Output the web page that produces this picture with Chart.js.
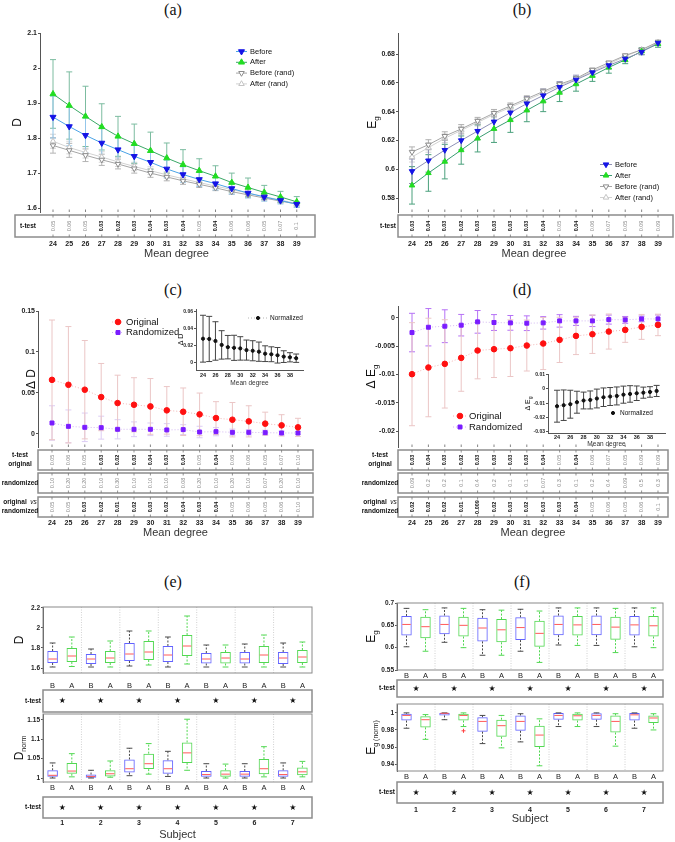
<!DOCTYPE html>
<html>
<head>
<meta charset="utf-8">
<title>Mean degree and subject comparison</title>
<script src="https://cdn.jsdelivr.net/npm/chart.js@4.4.1/dist/chart.umd.min.js"></script>
<style>
  body { margin: 0; background: #fff; width: 675px; height: 842px; position: relative; overflow: hidden; }
  canvas { position: absolute; }
  .ptitle { position: absolute; width: 40px; text-align: center; font-family: "Liberation Serif", "DejaVu Serif", serif; font-size: 16px; line-height: 16px; color: #111; }
</style>
</head>
<body>
<div class="ptitle" style="left:153px;top:2px">(a)</div>
<div class="ptitle" style="left:502px;top:2px">(b)</div>
<div class="ptitle" style="left:153px;top:282px">(c)</div>
<div class="ptitle" style="left:502px;top:282px">(d)</div>
<div class="ptitle" style="left:153px;top:574px">(e)</div>
<div class="ptitle" style="left:502px;top:574px">(f)</div>

<canvas id="chartA" width="337" height="245" style="left:0;top:20px"></canvas>
<canvas id="chartB" width="338" height="245" style="left:337px;top:20px"></canvas>
<canvas id="chartC" width="337" height="242" style="left:0;top:300px"></canvas>
<canvas id="chartD" width="338" height="242" style="left:337px;top:300px"></canvas>
<canvas id="insetC" width="135" height="87" style="left:175px;top:303px"></canvas>
<canvas id="insetD" width="155" height="80" style="left:520px;top:368px"></canvas>
<canvas id="chartE1" width="337" height="117" style="left:0;top:598px"></canvas>
<canvas id="chartE2" width="337" height="134" style="left:0;top:708px"></canvas>
<canvas id="chartF1" width="338" height="104" style="left:337px;top:596px"></canvas>
<canvas id="chartF2" width="338" height="143" style="left:337px;top:699px"></canvas>

<script>
// ---- shared categories / tick labels
var meanDegree = [24, 25, 26, 27, 28, 29, 30, 31, 32, 33, 34, 35, 36, 37, 38, 39];
var insetDegreeTicks = [24, 26, 28, 30, 32, 34, 36, 38];
var subjects = [1, 2, 3, 4, 5, 6, 7];
var boxLabels = ['B', 'A', 'B', 'A', 'B', 'A', 'B', 'A', 'B', 'A', 'B', 'A', 'B', 'A'];
var subjectSig = [1, 1, 1, 1, 1, 1, 1]; // star = significant t-test

// ---- (a) D vs mean degree
var dTicks = [1.6, 1.7, 1.8, 1.9, 2, 2.1];
var dBefore = [1.860, 1.833, 1.808, 1.786, 1.767, 1.748, 1.731, 1.712, 1.696, 1.682, 1.670, 1.656, 1.643, 1.632, 1.622, 1.611];
var dBeforeErr = [0.060, 0.055, 0.050, 0.042, 0.036, 0.031, 0.028, 0.025, 0.022, 0.020, 0.018, 0.016, 0.014, 0.012, 0.010, 0.008];
var dAfter = [1.926, 1.893, 1.862, 1.832, 1.805, 1.784, 1.764, 1.743, 1.724, 1.707, 1.691, 1.673, 1.659, 1.645, 1.632, 1.618];
var dAfterErr = [0.098, 0.096, 0.086, 0.066, 0.057, 0.056, 0.053, 0.043, 0.043, 0.034, 0.030, 0.027, 0.027, 0.020, 0.016, 0.015];
var dBeforeRand = [1.779, 1.765, 1.751, 1.738, 1.726, 1.713, 1.700, 1.689, 1.678, 1.668, 1.658, 1.647, 1.638, 1.629, 1.620, 1.612];
var dBeforeRandErr = [0.022, 0.020, 0.018, 0.016, 0.014, 0.013, 0.012, 0.011, 0.010, 0.009, 0.008, 0.007, 0.006, 0.006, 0.005, 0.005];
var dAfterRand = [1.791, 1.773, 1.759, 1.746, 1.732, 1.719, 1.707, 1.695, 1.684, 1.673, 1.663, 1.653, 1.643, 1.633, 1.623, 1.613];
var dAfterRandErr = [0.020, 0.018, 0.016, 0.015, 0.013, 0.012, 0.011, 0.010, 0.009, 0.008, 0.007, 0.007, 0.006, 0.005, 0.005, 0.004];
var dTtest = ['0.05', '0.06', '0.05', '0.03', '0.02', '0.03', '0.04', '0.03', '0.04', '0.05', '0.04', '0.06', '0.06', '0.05', '0.07', '0.1'];

// ---- (b) Eg vs mean degree
var egTicks = [0.58, 0.6, 0.62, 0.64, 0.66, 0.68];
var egBefore = [0.5986, 0.6060, 0.6133, 0.6200, 0.6265, 0.6330, 0.6393, 0.6456, 0.6512, 0.6570, 0.6621, 0.6672, 0.6721, 0.6767, 0.6814, 0.6877];
var egBeforeErr = [0.0085, 0.0080, 0.0075, 0.0065, 0.0060, 0.0058, 0.0052, 0.0048, 0.0044, 0.0038, 0.0032, 0.0027, 0.0025, 0.0020, 0.0018, 0.0016];
var egAfter = [0.5888, 0.5974, 0.6053, 0.6133, 0.6214, 0.6281, 0.6342, 0.6409, 0.6472, 0.6532, 0.6591, 0.6649, 0.6707, 0.6760, 0.6819, 0.6870];
var egAfterErr = [0.0130, 0.0127, 0.0120, 0.0098, 0.0094, 0.0095, 0.0086, 0.0079, 0.0072, 0.0062, 0.0049, 0.0039, 0.0040, 0.0027, 0.0024, 0.0023];
var egBeforeRand = [0.6120, 0.6170, 0.6230, 0.6280, 0.6335, 0.6390, 0.6440, 0.6490, 0.6540, 0.6590, 0.6630, 0.6690, 0.6740, 0.6790, 0.6830, 0.6885];
var egBeforeRandErr = [0.0035, 0.0035, 0.0030, 0.0030, 0.0025, 0.0025, 0.0020, 0.0020, 0.0018, 0.0016, 0.0014, 0.0012, 0.0010, 0.0010, 0.0008, 0.0008];
var egAfterRand = [0.6085, 0.6150, 0.6215, 0.6270, 0.6325, 0.6380, 0.6430, 0.6480, 0.6530, 0.6580, 0.6625, 0.6680, 0.6730, 0.6785, 0.6830, 0.6880];
var egAfterRandErr = [0.0035, 0.0032, 0.0030, 0.0028, 0.0025, 0.0022, 0.0020, 0.0018, 0.0016, 0.0015, 0.0013, 0.0012, 0.0010, 0.0009, 0.0008, 0.0008];
var egTtest = ['0.03', '0.04', '0.03', '0.02', '0.03', '0.03', '0.03', '0.03', '0.04', '0.05', '0.04', '0.06', '0.07', '0.05', '0.09', '0.09'];

// ---- (c) delta D
var dDeltaTicks = [0, 0.05, 0.1, 0.15];
var dDeltaOrig = [0.066, 0.060, 0.054, 0.045, 0.0377, 0.0356, 0.0336, 0.0288, 0.0271, 0.0239, 0.0194, 0.0174, 0.0154, 0.0126, 0.0105, 0.0081];
var dDeltaOrigErr = [0.073, 0.071, 0.060, 0.041, 0.034, 0.033, 0.034, 0.029, 0.029, 0.026, 0.020, 0.021, 0.019, 0.014, 0.013, 0.011];
var dDeltaRand = [0.0134, 0.0093, 0.0081, 0.0077, 0.0057, 0.0057, 0.0057, 0.0049, 0.0053, 0.0024, 0.0028, 0.0020, 0.0020, 0.0016, 0.0012, 0.0012];
var dDeltaRandErr = [0.021, 0.020, 0.0174, 0.014, 0.0117, 0.009, 0.0077, 0.0077, 0.006, 0.007, 0.005, 0.004, 0.0033, 0.003, 0.0024, 0.002];
var dNormTicks = [0, 0.02, 0.04, 0.06];
var dDeltaNorm = [0.028, 0.0277, 0.0253, 0.0206, 0.0179, 0.0171, 0.0164, 0.0144, 0.0136, 0.0125, 0.0101, 0.0094, 0.0082, 0.0066, 0.0058, 0.0047];
var dDeltaNormErr = [0.028, 0.027, 0.023, 0.017, 0.014, 0.015, 0.014, 0.012, 0.012, 0.0115, 0.0094, 0.0089, 0.0093, 0.007, 0.0055, 0.005];
var dTtestOrig = ['0.05', '0.06', '0.05', '0.03', '0.02', '0.03', '0.04', '0.03', '0.04', '0.05', '0.04', '0.06', '0.06', '0.05', '0.07', '0.10'];
var dTtestRand = ['0.10', '0.20', '0.20', '0.10', '0.30', '0.10', '0.10', '0.10', '0.08', '0.20', '0.10', '0.20', '0.10', '0.07', '0.20', '0.10'];
var dTtestOrigVsRand = ['0.05', '0.05', '0.03', '0.02', '0.01', '0.02', '0.03', '0.02', '0.04', '0.03', '0.04', '0.05', '0.06', '0.05', '0.06', '0.10'];

// ---- (d) delta Eg
var egDeltaTicks = [-0.02, -0.015, -0.01, -0.005, 0];
var egDeltaOrig = [-0.00994, -0.00876, -0.00812, -0.00706, -0.00576, -0.00553, -0.00535, -0.00488, -0.00453, -0.00388, -0.00318, -0.00288, -0.00241, -0.00212, -0.00159, -0.00124];
var egDeltaOrigErr = [0.0091, 0.0087, 0.0078, 0.0059, 0.0050, 0.0050, 0.0050, 0.0045, 0.0046, 0.0040, 0.0033, 0.0034, 0.0031, 0.0022, 0.0022, 0.0019];
var egDeltaRand = [-0.00259, -0.00165, -0.00147, -0.00129, -0.0007, -0.00082, -0.00088, -0.00094, -0.00088, -0.00053, -0.00053, -0.00053, -0.0003, -0.00035, -0.00018, -0.00018];
var egDeltaRandErr = [0.0034, 0.0033, 0.0029, 0.0019, 0.0020, 0.0014, 0.0013, 0.0013, 0.0011, 0.0011, 0.0008, 0.0010, 0.0008, 0.0006, 0.0005, 0.0007];
var egNormTicks = [-0.03, -0.02, -0.01, 0, 0.01];
var egDeltaNorm = [-0.0121, -0.0114, -0.0107, -0.0093, -0.0081, -0.0077, -0.0067, -0.0058, -0.0053, -0.0049, -0.0040, -0.0035, -0.0030, -0.0026, -0.0021, -0.0014];
var egDeltaNormErr = [0.0112, 0.0107, 0.0098, 0.0077, 0.0059, 0.0063, 0.0066, 0.0065, 0.0063, 0.0063, 0.0060, 0.0058, 0.0051, 0.0039, 0.0037, 0.0039];
var egTtestOrig = ['0.03', '0.04', '0.03', '0.02', '0.03', '0.03', '0.03', '0.03', '0.04', '0.05', '0.04', '0.06', '0.07', '0.05', '0.09', '0.09'];
var egTtestRand = ['0.09', '0.2', '0.2', '0.1', '0.4', '0.2', '0.1', '0.1', '0.07', '0.3', '0.1', '0.2', '0.4', '0.09', '0.5', '0.3'];
var egTtestOrigVsRand = ['0.02', '0.02', '0.02', '0.01', '0.009', '0.02', '0.03', '0.02', '0.03', '0.03', '0.04', '0.05', '0.06', '0.05', '0.06', '0.1'];

// ---- (e) boxes per subject, B/A order
var dBoxTicks = [1.6, 1.8, 2, 2.2];
var dBoxLo = [1.61, 1.615, 1.61, 1.61, 1.62, 1.63, 1.61, 1.64, 1.61, 1.61, 1.61, 1.61, 1.61, 1.61];
var dBoxQ1 = [1.65, 1.66, 1.64, 1.65, 1.67, 1.68, 1.66, 1.72, 1.645, 1.645, 1.645, 1.65, 1.64, 1.65];
var dBoxMed = [1.69, 1.72, 1.69, 1.70, 1.74, 1.76, 1.73, 1.82, 1.69, 1.70, 1.69, 1.73, 1.70, 1.71];
var dBoxQ3 = [1.77, 1.80, 1.74, 1.77, 1.85, 1.87, 1.82, 1.93, 1.75, 1.76, 1.76, 1.82, 1.76, 1.78];
var dBoxHi = [1.85, 1.91, 1.79, 1.87, 1.97, 1.97, 1.91, 2.12, 1.83, 1.83, 1.84, 1.93, 1.85, 1.86];
var dNormBoxTicks = [1, 1.05, 1.1, 1.15];
var dNormLo = [1.0, 1.003, 1.0, 1.002, 1.006, 1.01, 1.004, 1.02, 1.0, 1.0, 1.0, 1.003, 1.0, 1.003];
var dNormQ1 = [1.003, 1.011, 1.001, 1.004, 1.014, 1.023, 1.011, 1.039, 1.003, 1.003, 1.003, 1.01, 1.003, 1.007];
var dNormMed = [1.007, 1.018, 1.004, 1.011, 1.024, 1.037, 1.024, 1.065, 1.009, 1.01, 1.01, 1.024, 1.009, 1.016];
var dNormQ3 = [1.02, 1.039, 1.009, 1.02, 1.048, 1.063, 1.046, 1.092, 1.018, 1.02, 1.018, 1.049, 1.02, 1.027];
var dNormHi = [1.039, 1.063, 1.02, 1.044, 1.077, 1.089, 1.069, 1.152, 1.037, 1.036, 1.037, 1.081, 1.039, 1.043];

// ---- (f) boxes per subject, B/A order
var egBoxTicks = [0.55, 0.6, 0.65, 0.7];
var egBoxLo = [0.602, 0.592, 0.612, 0.600, 0.583, 0.583, 0.592, 0.567, 0.606, 0.605, 0.605, 0.589, 0.602, 0.600];
var egBoxQ1 = [0.627, 0.621, 0.630, 0.625, 0.614, 0.612, 0.617, 0.602, 0.628, 0.627, 0.628, 0.618, 0.627, 0.625];
var egBoxMed = [0.652, 0.647, 0.652, 0.650, 0.644, 0.640, 0.645, 0.632, 0.652, 0.651, 0.652, 0.646, 0.651, 0.649];
var egBoxQ3 = [0.671, 0.669, 0.672, 0.669, 0.667, 0.664, 0.668, 0.660, 0.672, 0.671, 0.672, 0.669, 0.671, 0.671];
var egBoxHi = [0.688, 0.685, 0.689, 0.688, 0.685, 0.684, 0.686, 0.682, 0.689, 0.689, 0.689, 0.688, 0.689, 0.689];
var egNormBoxTicks = [0.94, 0.96, 0.98, 1];
var egNormLo = [0.982, 0.969, 0.992, 0.984, 0.964, 0.959, 0.966, 0.938, 0.984, 0.984, 0.984, 0.961, 0.982, 0.980];
var egNormQ1 = [0.991, 0.983, 0.997, 0.991, 0.978, 0.972, 0.979, 0.960, 0.992, 0.991, 0.992, 0.977, 0.991, 0.988];
var egNormMed = [0.997, 0.992, 0.9995, 0.997, 0.990, 0.985, 0.990, 0.974, 0.997, 0.9966, 0.997, 0.990, 0.9977, 0.994];
var egNormQ3 = [0.999, 0.996, 1.0, 0.999, 0.995, 0.992, 0.997, 0.985, 1.0, 0.999, 0.9996, 0.997, 1.0, 0.997];
var egNormHi = [1.0, 0.998, 1.0, 1.0, 0.997, 0.997, 0.999, 0.993, 1.0, 1.0, 1.0, 0.999, 1.0, 0.999];
var egNormOutliers = [null, null, null, 0.979, null, null, null, null, null, null, null, null, null, null];

// ---- setup
var plotFont = '"Liberation Sans", Arial, Helvetica, sans-serif';
Chart.defaults.font.family = plotFont;
Chart.defaults.color = '#222';
Chart.defaults.animation = false;
Chart.defaults.responsive = false;
Chart.defaults.devicePixelRatio = 1;
Chart.defaults.plugins.legend.display = false;
Chart.defaults.plugins.tooltip.enabled = false;

var boxBlue = '#6262ff';
var boxGreen = '#52d852';

function fmtNum(v) { return String(parseFloat(Number(v).toFixed(6))); }

function setTicks(values) {
    return function (scale) {
        scale.ticks = values.map(function (v) { return { value: v }; });
    };
}
//axis sizes are pinned so the plot areas land where the figure has them
function fixWidth(w) {
    return function (scale) { scale.width = w; scale.paddingTop = 0; scale.paddingBottom = 0; };
}
function fixHeight(h) {
    return function (scale) { scale.height = h; scale.paddingLeft = 0; scale.paddingRight = 0; };
}

function pts(values) {
    return values.map(function (v, i) { return { x: meanDegree[i], y: v }; });
}

function series(label, values, errs, st) {
    return {
        label: label, data: pts(values), errors: errs, errorColor: st.err,
        borderColor: st.line, borderWidth: st.lw || 1, borderDash: st.dash || [],
        pointStyle: st.shape, pointRotation: st.rot || 0, pointRadius: st.r,
        pointBackgroundColor: st.fill, pointBorderColor: st.edge || st.fill, pointBorderWidth: 1,
        tension: 0, fill: false
    };
}

function degreeAxis(o) {
    return {
        type: 'linear', min: o.min, max: o.max, offset: false,
        afterBuildTicks: setTicks(o.ticks || meanDegree),
        afterFit: fixHeight(o.height),
        grid: { display: false, drawTicks: false },
        border: { display: !!o.border, color: '#555' },
        //tiny inset labels are painted by insetTicks (the last one got lost at 5px)
        ticks: { display: !o.manualLabels, padding: o.pad, autoSkip: false, autoSkipPadding: 0, maxRotation: 0, color: '#222', font: { size: o.size || 7, weight: 'bold' } },
        title: { display: true, text: 'Mean degree', color: '#333', font: { size: o.titleSize || 11 }, padding: { top: 0, bottom: o.titlePad } }
    };
}

function valueAxis(o) {
    return {
        type: 'linear', min: o.min, max: o.max, beginAtZero: false,
        afterBuildTicks: setTicks(o.ticks),
        afterFit: fixWidth(o.width),
        grid: { drawOnChartArea: false, tickLength: 2, color: '#555' },
        border: { display: true, color: '#555' },
        ticks: { padding: 1, color: '#222', font: { size: o.size || 7, weight: 'bold' }, callback: function (v) { return fmtNum(v); } }
    };
}

// ---- plugins
var errorBarsPlugin = {
    id: 'errorBars',
    beforeDatasetsDraw: function (chart) {
        var ctx = chart.ctx, ys = chart.scales.y;
        for (var di = chart.data.datasets.length - 1; di >= 0; di--) {
            var ds = chart.data.datasets[di];
            if (!ds.errors) continue;
            var meta = chart.getDatasetMeta(di);
            ctx.save();
            ctx.strokeStyle = ds.errorColor;
            ctx.lineWidth = 1;
            meta.data.forEach(function (pt, i) {
                var v = meta.controller.getParsed(i).y, e = ds.errors[i];
                if (v == null || e == null) return;
                var yt = ys.getPixelForValue(v + e), yb = ys.getPixelForValue(v - e), cap = ds.errorCap || 3;
                ctx.beginPath();
                ctx.moveTo(pt.x, yt); ctx.lineTo(pt.x, yb);
                ctx.moveTo(pt.x - cap, yt); ctx.lineTo(pt.x + cap, yt);
                ctx.moveTo(pt.x - cap, yb); ctx.lineTo(pt.x + cap, yb);
                ctx.stroke();
            });
            ctx.restore();
        }
    }
};

var insetTicksPlugin = {
    id: 'insetTicks',
    afterDraw: function (chart, args, opts) {
        if (!opts.size) return;
        var ctx = chart.ctx, xs = chart.scales.x;
        ctx.save();
        ctx.fillStyle = '#222';
        ctx.font = 'bold ' + opts.size + 'px ' + plotFont;
        ctx.textAlign = 'center';
        ctx.textBaseline = 'top';
        xs.ticks.forEach(function (t) {
            ctx.fillText(fmtNum(t.value), xs.getPixelForValue(t.value), xs.top + opts.pad);
        });
        ctx.restore();
    }
};

var yLabelPlugin = {
    id: 'yLabel',
    afterDraw: function (chart, args, opts) {
        if (!opts.parts) return;
        var ctx = chart.ctx, area = chart.chartArea;
        ctx.save();
        ctx.translate(opts.x, (area.top + area.bottom) / 2);
        ctx.rotate(-Math.PI / 2);
        ctx.fillStyle = '#111';
        ctx.textBaseline = 'middle';
        ctx.textAlign = 'left';
        var total = 0;
        opts.parts.forEach(function (p) { ctx.font = p.size + 'px ' + plotFont; total += ctx.measureText(p.t).width; });
        var x = -total / 2;
        opts.parts.forEach(function (p) {
            ctx.font = p.size + 'px ' + plotFont;
            ctx.fillText(p.t, x, p.dy || 0);
            x += ctx.measureText(p.t).width;
        });
        ctx.restore();
    }
};

var miniLegendPlugin = {
    id: 'miniLegend',
    afterDraw: function (chart, args, opts) {
        if (!opts.items) return;
        var ctx = chart.ctx;
        opts.items.forEach(function (dsIndex, k) {
            var ds = chart.data.datasets[dsIndex];
            var y = opts.y + k * opts.rowH, x0 = opts.x, x1 = opts.x + opts.lineLen;
            ctx.save();
            ctx.strokeStyle = ds.borderColor;
            ctx.lineWidth = ds.borderWidth;
            ctx.setLineDash(ds.borderDash || []);
            ctx.beginPath(); ctx.moveTo(x0, y); ctx.lineTo(x1, y); ctx.stroke();
            ctx.setLineDash([]);
            ctx.fillStyle = ds.pointBackgroundColor;
            ctx.strokeStyle = ds.pointBorderColor;
            ctx.lineWidth = ds.pointBorderWidth;
            Chart.helpers.drawPoint(ctx, { pointStyle: ds.pointStyle, rotation: ds.pointRotation, radius: ds.pointRadius, borderWidth: ds.pointBorderWidth }, (x0 + x1) / 2, y);
            ctx.fillStyle = '#111';
            ctx.font = opts.size + 'px ' + plotFont;
            ctx.textBaseline = 'middle';
            ctx.textAlign = 'left';
            ctx.fillText(ds.label, x1 + (opts.gap || 3), y);
            ctx.restore();
        });
    }
};

function segFont(s) { return (s.it ? 'italic ' : 'bold ') + '6.5px ' + plotFont; }

function drawRowLabel(ctx, lines, x, cy, align) {
    var lh = 9, y0 = cy - (lines.length - 1) * lh / 2;
    lines.forEach(function (segs, li) {
        var widths = segs.map(function (s) { ctx.font = segFont(s); return ctx.measureText(s.t).width; });
        var total = widths.reduce(function (a, b) { return a + b; }, 0);
        var sx = align === 'right' ? x - total : (align === 'center' ? x - total / 2 : x);
        segs.forEach(function (s, k) {
            ctx.font = segFont(s);
            ctx.fillStyle = '#111';
            ctx.textAlign = 'left';
            ctx.textBaseline = 'middle';
            ctx.fillText(s.t, sx, y0 + li * lh);
            sx += widths[k];
        });
    });
}

//p-value strip under the degree plots, one rotated value per tick
var pvalTablePlugin = {
    id: 'pvalTable',
    afterDraw: function (chart, args, opts) {
        if (!opts.rows) return;
        var ctx = chart.ctx, xs = chart.scales.x, area = chart.chartArea;
        ctx.save();
        ctx.strokeStyle = '#666';
        ctx.lineWidth = 0.8;
        xs.ticks.forEach(function (t) {
            var x = xs.getPixelForValue(t.value);
            ctx.beginPath(); ctx.moveTo(x, area.bottom); ctx.lineTo(x, area.bottom - 2.5); ctx.stroke();
        });
        opts.rows.forEach(function (row) {
            ctx.strokeStyle = '#8c8c8c';
            ctx.lineWidth = 1.5;
            ctx.strokeRect(opts.left, row.top, opts.right - opts.left, row.bottom - row.top);
            xs.ticks.forEach(function (t, i) {
                var x = xs.getPixelForValue(t.value);
                ctx.strokeStyle = '#777';
                ctx.lineWidth = 0.8;
                ctx.beginPath();
                ctx.moveTo(x, row.top); ctx.lineTo(x, row.top + 2.5);
                ctx.moveTo(x, row.bottom); ctx.lineTo(x, row.bottom - 2.5);
                ctx.stroke();
                var txt = row.values[i], sig = parseFloat(txt) < 0.05;
                ctx.save();
                ctx.translate(x, (row.top + row.bottom) / 2);
                ctx.rotate(-Math.PI / 2);
                ctx.font = (sig ? 'bold ' : '') + '5.5px ' + plotFont;
                ctx.fillStyle = sig ? '#111' : '#8a8a8a';
                ctx.textAlign = 'center';
                ctx.textBaseline = 'middle';
                ctx.fillText(txt, 0, 0);
                ctx.restore();
            });
            drawRowLabel(ctx, row.label, opts.labelX, (row.top + row.bottom) / 2, opts.labelAlign || 'center');
        });
        ctx.restore();
    }
};

//frame, subject separators, whiskers and medians for the floating-bar boxes
var boxPlotPlugin = {
    id: 'boxPlot',
    beforeDatasetsDraw: function (chart, args, opts) {
        if (!opts.on) return;
        var ctx = chart.ctx, xs = chart.scales.x, area = chart.chartArea;
        ctx.save();
        ctx.strokeStyle = '#c4c4c4';
        ctx.lineWidth = 0.8;
        ctx.setLineDash([1, 1.5]);
        for (var k = 1; k < subjects.length; k++) {
            var x = (xs.getPixelForValue(2 * k - 1) + xs.getPixelForValue(2 * k)) / 2;
            ctx.beginPath(); ctx.moveTo(x, area.top); ctx.lineTo(x, area.bottom); ctx.stroke();
        }
        ctx.setLineDash([]);
        ctx.strokeStyle = '#8a8a8a';
        ctx.lineWidth = 1;
        ctx.strokeRect(area.left, area.top, area.right - area.left, area.bottom - area.top);
        ctx.restore();
    },
    afterDatasetsDraw: function (chart, args, opts) {
        if (!opts.on) return;
        var ctx = chart.ctx, ys = chart.scales.y;
        var ds = chart.data.datasets[0], meta = chart.getDatasetMeta(0);
        ctx.save();
        meta.data.forEach(function (bar, i) {
            var half = bar.width / 2, cap = half * 0.55, x = bar.x;
            var yHi = ys.getPixelForValue(ds.whiskerHi[i]), yLo = ys.getPixelForValue(ds.whiskerLo[i]);
            var yQ3 = ys.getPixelForValue(ds.data[i][1]), yQ1 = ys.getPixelForValue(ds.data[i][0]);
            ctx.strokeStyle = ds.whiskerColor[i];
            ctx.lineWidth = 1;
            ctx.setLineDash([2, 1.5]);
            ctx.beginPath();
            ctx.moveTo(x, yQ3); ctx.lineTo(x, yHi);
            ctx.moveTo(x, yQ1); ctx.lineTo(x, yLo);
            ctx.stroke();
            ctx.setLineDash([]);
            ctx.beginPath();
            ctx.moveTo(x - cap, yHi); ctx.lineTo(x + cap, yHi);
            ctx.moveTo(x - cap, yLo); ctx.lineTo(x + cap, yLo);
            ctx.stroke();
            var yMed = ys.getPixelForValue(ds.median[i]);
            ctx.strokeStyle = '#ff5a5a';
            ctx.beginPath(); ctx.moveTo(x - half + 1, yMed); ctx.lineTo(x + half - 1, yMed); ctx.stroke();
        });
        ctx.restore();
    }
};

var starRowPlugin = {
    id: 'starRow',
    afterDraw: function (chart, args, opts) {
        if (!opts.marks) return;
        var ctx = chart.ctx, xs = chart.scales.x, cy = (opts.top + opts.bottom) / 2;
        ctx.save();
        ctx.strokeStyle = '#8c8c8c';
        ctx.lineWidth = 1.5;
        ctx.strokeRect(opts.left, opts.top, opts.right - opts.left, opts.bottom - opts.top);
        ctx.fillStyle = '#111';
        ctx.font = '8px "DejaVu Sans", sans-serif';
        ctx.textAlign = 'center';
        ctx.textBaseline = 'middle';
        opts.marks.forEach(function (m, k) {
            if (!m) return;
            var x = (xs.getPixelForValue(2 * k) + xs.getPixelForValue(2 * k + 1)) / 2;
            ctx.fillText('\u2605', x, cy);
        });
        drawRowLabel(ctx, [[{ t: 't-test' }]], opts.labelX, cy, 'right');
        ctx.restore();
    }
};

Chart.register(errorBarsPlugin, insetTicksPlugin, yLabelPlugin, miniLegendPlugin, pvalTablePlugin, boxPlotPlugin, starRowPlugin);

// ---- (a)
new Chart(document.getElementById('chartA'), {
    type: 'line',
    data: {
        datasets: [
            series('Before', dBefore, dBeforeErr, { line: '#4aa3e6', err: '#93c6ea', shape: 'triangle', rot: 180, r: 3.5, fill: '#1414e6' }),
            series('After', dAfter, dAfterErr, { line: '#3aa866', err: '#7cbca0', shape: 'triangle', r: 3.5, fill: '#22dd22' }),
            series('Before (rand)', dBeforeRand, dBeforeRandErr, { line: '#a6a6a6', err: '#b4b4b4', shape: 'triangle', rot: 180, r: 3.2, fill: '#ffffff', edge: '#8c8c8c' }),
            series('After (rand)', dAfterRand, dAfterRandErr, { line: '#d2d2d2', err: '#d6d6d6', shape: 'triangle', r: 3.2, fill: '#ffffff', edge: '#c4c4c4' })
        ]
    },
    options: {
        layout: { padding: { left: 0, top: 13, right: 24, bottom: 0 } },
        scales: {
            x: degreeAxis({ min: 23.2, max: 40, height: 53, pad: 27.8, titlePad: 4.4 }),
            y: valueAxis({ min: 1.589, max: 2.1, ticks: dTicks, width: 40 })
        },
        plugins: {
            yLabel: { x: 18, parts: [{ t: 'D', size: 12 }] },
            miniLegend: { x: 236, y: 31.5, rowH: 10.8, lineLen: 11, size: 7.5, items: [0, 1, 2, 3] },
            pvalTable: { left: 15, right: 315, labelX: 28, rows: [{ top: 195, bottom: 217, label: [[{ t: 't-test' }]], values: dTtest }] }
        }
    }
});

// ---- (b)
new Chart(document.getElementById('chartB'), {
    type: 'line',
    data: {
        datasets: [
            series('Before', egBefore, egBeforeErr, { line: '#8e90b4', err: '#8e90b4', shape: 'triangle', rot: 180, r: 3.2, fill: '#1414e6' }),
            series('After', egAfter, egAfterErr, { line: '#3a9c72', err: '#4aa07c', shape: 'triangle', r: 3.2, fill: '#22dd22' }),
            series('Before (rand)', egBeforeRand, egBeforeRandErr, { line: '#a6a6a6', err: '#b0b0b0', shape: 'triangle', rot: 180, r: 3.2, fill: '#ffffff', edge: '#8c8c8c' }),
            series('After (rand)', egAfterRand, egAfterRandErr, { line: '#d2d2d2', err: '#d6d6d6', shape: 'triangle', r: 3.2, fill: '#ffffff', edge: '#c4c4c4' })
        ]
    },
    options: {
        layout: { padding: { left: 0, top: 13, right: 5, bottom: 0 } },
        scales: {
            x: degreeAxis({ min: 23.146, max: 39.73, height: 53, pad: 27.8, titlePad: 4.4 }),
            y: valueAxis({ min: 0.5703, max: 0.6946, ticks: egTicks, width: 61 })
        },
        plugins: {
            yLabel: { x: 36, parts: [{ t: 'E', size: 12 }, { t: 'g', size: 8, dy: 4 }] },
            miniLegend: { x: 263, y: 144.5, rowH: 11, lineLen: 12, size: 7.5, items: [0, 1, 2, 3] },
            pvalTable: { left: 61, right: 336, labelX: 51, rows: [{ top: 195, bottom: 217, label: [[{ t: 't-test' }]], values: egTtest }] }
        }
    }
});

var rowLabelOrig = [[{ t: 't-test' }], [{ t: 'original' }]];
var rowLabelRand = [[{ t: 'randomized' }]];
var rowLabelVs = [[{ t: 'original  ' }, { t: 'vs', it: true }], [{ t: 'randomized' }]];

// ---- (c)
new Chart(document.getElementById('chartC'), {
    type: 'line',
    data: {
        datasets: [
            series('Original', dDeltaOrig, dDeltaOrigErr, { line: '#f2b4b4', err: '#ebc6c6', dash: [1, 2], shape: 'circle', r: 2.8, fill: '#ff1010' }),
            series('Randomized', dDeltaRand, dDeltaRandErr, { line: '#d2b6f2', err: '#dccdf4', dash: [1, 2], shape: 'rect', r: 2.8, fill: '#7a1cff' })
        ]
    },
    options: {
        layout: { padding: { left: 0, top: 11, right: 24, bottom: 0 } },
        scales: {
            x: degreeAxis({ min: 23.146, max: 39.915, height: 95, pad: 71.8, titlePad: 2.4 }),
            y: valueAxis({ min: -0.0159, max: 0.15, ticks: dDeltaTicks, width: 38 })
        },
        plugins: {
            yLabel: { x: 32, parts: [{ t: '\u0394 D', size: 12 }] },
            miniLegend: { x: 112, y: 22, rowH: 10.5, lineLen: 12, gap: 2, size: 9.5, items: [0, 1] },
            pvalTable: {
                left: 38, right: 313, labelX: 20,
                rows: [
                    { top: 150, bottom: 170, label: rowLabelOrig, values: dTtestOrig },
                    { top: 173, bottom: 193, label: rowLabelRand, values: dTtestRand },
                    { top: 197, bottom: 217, label: rowLabelVs, values: dTtestOrigVsRand }
                ]
            }
        }
    }
});

new Chart(document.getElementById('insetC'), {
    type: 'line',
    data: {
        datasets: [
            series('Normalized', dDeltaNorm, dDeltaNormErr, { line: '#b4b4b4', err: '#444444', dash: [1, 2], shape: 'circle', r: 1.6, fill: '#111111' })
        ]
    },
    options: {
        layout: { padding: { left: 0, top: 6, right: 7, bottom: 0 } },
        scales: {
            x: degreeAxis({ min: 22.87, max: 40.1, ticks: insetDegreeTicks, border: true, manualLabels: true, height: 20, pad: 2.7, size: 5.5, titleSize: 6.5, titlePad: 3.1 }),
            y: valueAxis({ min: -0.0094, max: 0.0635, ticks: dNormTicks, width: 21, size: 5 })
        },
        plugins: {
            insetTicks: { size: 5.5, pad: 2.5 },
            yLabel: { x: 6, parts: [{ t: '\u0394 D', size: 7 }] },
            miniLegend: { x: 73, y: 15, rowH: 9, lineLen: 20, gap: 2, size: 6.5, items: [0] }
        }
    }
});

// ---- (d)
new Chart(document.getElementById('chartD'), {
    type: 'line',
    data: {
        datasets: [
            series('Original', egDeltaOrig, egDeltaOrigErr, { line: '#f2b4b4', err: '#ebc6c6', dash: [1, 2], shape: 'circle', r: 2.8, fill: '#ff1010' }),
            series('Randomized', egDeltaRand, egDeltaRandErr, { line: '#d2b6f2', err: '#b672f6', dash: [1, 2], shape: 'rect', r: 2.8, fill: '#7a1cff' })
        ]
    },
    options: {
        layout: { padding: { left: 0, top: 6, right: 7, bottom: 0 } },
        scales: {
            x: degreeAxis({ min: 23.146, max: 39.61, height: 95, pad: 71.8, titlePad: 2.4 }),
            y: valueAxis({ min: -0.0228, max: 0.0021, ticks: egDeltaTicks, width: 61 })
        },
        plugins: {
            yLabel: { x: 35, parts: [{ t: '\u0394 E', size: 12 }, { t: 'g', size: 8, dy: 4 }] },
            miniLegend: { x: 116, y: 116, rowH: 11, lineLen: 14, gap: 2, size: 9.5, items: [0, 1] },
            pvalTable: {
                left: 61, right: 331, labelX: 43,
                rows: [
                    { top: 150, bottom: 170, label: rowLabelOrig, values: egTtestOrig },
                    { top: 173, bottom: 193, label: rowLabelRand, values: egTtestRand },
                    { top: 197, bottom: 217, label: rowLabelVs, values: egTtestOrigVsRand }
                ]
            }
        }
    }
});

new Chart(document.getElementById('insetD'), {
    type: 'line',
    data: {
        datasets: [
            series('Normalized', egDeltaNorm, egDeltaNormErr, { line: '#b4b4b4', err: '#444444', dash: [1, 2], shape: 'circle', r: 1.6, fill: '#111111' })
        ]
    },
    options: {
        layout: { padding: { left: 0, top: 6, right: 10, bottom: 0 } },
        scales: {
            x: degreeAxis({ min: 22.64, max: 40.26, ticks: insetDegreeTicks, border: true, manualLabels: true, height: 15, pad: 1.7, size: 5.5, titleSize: 6.5, titlePad: 0.1 }),
            y: valueAxis({ min: -0.0309, max: 0.0105, ticks: egNormTicks, width: 28, size: 5 })
        },
        plugins: {
            insetTicks: { size: 5.5, pad: 1.5 },
            yLabel: { x: 8, parts: [{ t: '\u0394 E', size: 7 }, { t: 'g', size: 5, dy: 2.5 }] },
            miniLegend: { x: 93, y: 45, rowH: 9, lineLen: 0, gap: 7, size: 6.5, items: [0] }
        }
    }
});

// ---- (e) and (f) box plots
function boxChart(id, b) {
    var datasets = [{
        type: 'bar',
        data: b.q1.map(function (v, i) { return [v, b.q3[i]]; }),
        median: b.med, whiskerLo: b.lo, whiskerHi: b.hi,
        whiskerColor: boxLabels.map(function (g) { return g === 'B' ? '#4a4a4a' : boxGreen; }),
        borderColor: boxLabels.map(function (g) { return g === 'B' ? boxBlue : boxGreen; }),
        backgroundColor: 'rgba(0,0,0,0)', borderWidth: 1, borderSkipped: false,
        barPercentage: 0.55, categoryPercentage: 1
    }];
    if (b.outliers) {
        datasets.push({ type: 'line', data: b.outliers, showLine: false, pointStyle: 'cross', pointRadius: 2, borderColor: '#ff4040', pointBorderColor: '#ff4040', pointBorderWidth: 1 });
    }
    var scales = {
        x: {
            type: 'category', offset: true, weight: 0,
            afterFit: fixHeight(b.xHeight),
            grid: { display: false, drawTicks: false },
            border: { display: false },
            ticks: { padding: b.xPad, autoSkip: false, maxRotation: 0, color: '#222', font: { size: 7.5 } }
        },
        y: valueAxis({ min: b.min, max: b.max, ticks: b.ticks, width: b.yWidth, size: 6.5 })
    };
    if (b.subjectAxis) {
        //subject numbers sit between each B/A pair, so a plain linear axis spanning the category bands
        scales.x2 = {
            type: 'linear', position: 'bottom', weight: 1, offset: false,
            min: -0.5, max: boxLabels.length - 0.5,
            afterBuildTicks: setTicks(subjects.map(function (s, i) { return 2 * i + 0.5; })),
            afterFit: fixHeight(b.subjectAxis.height),
            grid: { display: false, drawTicks: false, offset: false },
            border: { display: false },
            ticks: { padding: b.subjectAxis.pad, autoSkip: false, maxRotation: 0, color: '#222', font: { size: 7, weight: 'bold' },
                callback: function (v, i) { return String(subjects[i]); } },
            title: { display: true, text: 'Subject', color: '#333', font: { size: 11 }, padding: { top: 0, bottom: b.subjectAxis.titlePad } }
        };
    }
    return new Chart(document.getElementById(id), {
        type: 'bar',
        data: { labels: boxLabels, datasets: datasets },
        options: {
            layout: { padding: { left: 0, top: b.padTop, right: b.padRight, bottom: 0 } },
            scales: scales,
            plugins: {
                boxPlot: { on: true },
                yLabel: { x: b.labelX, parts: b.yParts },
                starRow: { marks: subjectSig, top: b.rowTop, bottom: b.rowBottom, left: b.yWidth, right: b.rowRight, labelX: b.yWidth - 2 }
            }
        }
    });
}

boxChart('chartE1', {
    q1: dBoxQ1, q3: dBoxQ3, med: dBoxMed, lo: dBoxLo, hi: dBoxHi,
    min: 1.55, max: 2.21, ticks: dBoxTicks, yWidth: 43, padTop: 9, padRight: 25,
    xHeight: 42, xPad: 8.5, rowTop: 92, rowBottom: 114, rowRight: 312,
    labelX: 20, yParts: [{ t: 'D', size: 12 }]
});
boxChart('chartE2', {
    q1: dNormQ1, q3: dNormQ3, med: dNormMed, lo: dNormLo, hi: dNormHi,
    min: 0.9897, max: 1.1655, ticks: dNormBoxTicks, yWidth: 43, padTop: 6, padRight: 25,
    xHeight: 11, xPad: 1.5, rowTop: 89, rowBottom: 110, rowRight: 312,
    subjectAxis: { height: 49, pad: 25.8, titlePad: 0.4 },
    labelX: 20, yParts: [{ t: 'D', size: 12 }, { t: 'norm', size: 7, dy: 4 }]
});
boxChart('chartF1', {
    q1: egBoxQ1, q3: egBoxQ3, med: egBoxMed, lo: egBoxLo, hi: egBoxHi,
    min: 0.55, max: 0.70, ticks: egBoxTicks, yWidth: 60, padTop: 7, padRight: 12,
    xHeight: 30, xPad: 1.5, rowTop: 84, rowBottom: 101, rowRight: 326,
    labelX: 35, yParts: [{ t: 'E', size: 12 }, { t: 'g', size: 8, dy: 4 }]
});
boxChart('chartF2', {
    q1: egNormQ1, q3: egNormQ3, med: egNormMed, lo: egNormLo, hi: egNormHi, outliers: egNormOutliers,
    min: 0.9319, max: 1.0104, ticks: egNormBoxTicks, yWidth: 60, padTop: 4, padRight: 12,
    xHeight: 9, xPad: 1.5, rowTop: 83, rowBottom: 104, rowRight: 326,
    subjectAxis: { height: 62, pad: 25.8, titlePad: 16.4 },
    labelX: 35, yParts: [{ t: 'E', size: 12 }, { t: 'g (norm)', size: 7, dy: 4 }]
});
</script>
</body>
</html>
